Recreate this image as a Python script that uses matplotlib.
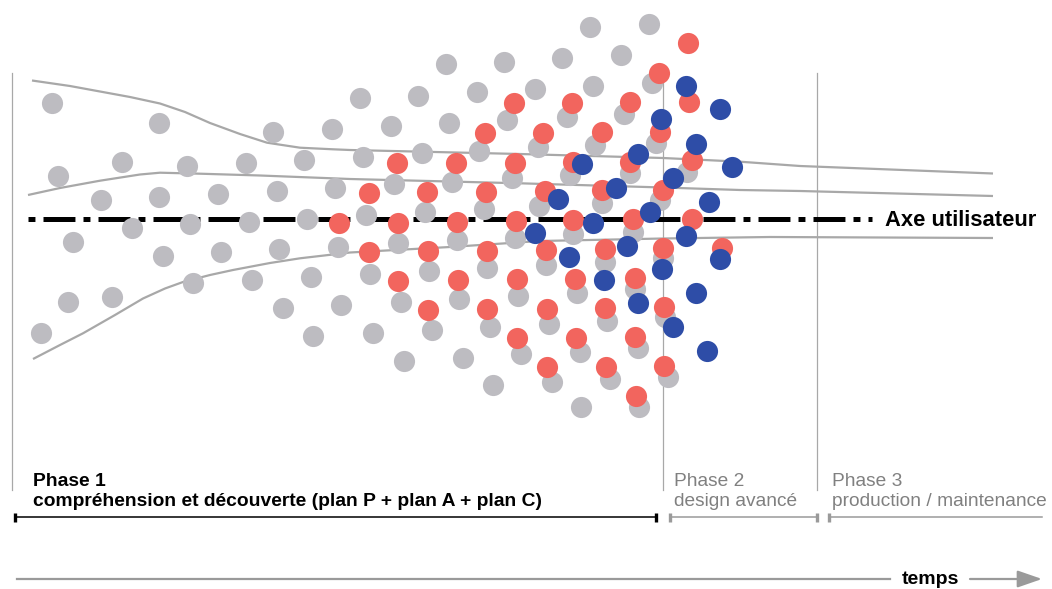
import matplotlib
matplotlib.use("Agg")
import matplotlib.pyplot as plt
from matplotlib.patches import FancyArrowPatch

plt.rcParams['font.family'] = ['Liberation Sans', 'DejaVu Sans']
plt.rcParams['lines.scale_dashes'] = False

# ---------------- data (diagram coordinates, pixel-like units) ----------------
gray_x = [51.7, 159.3, 273.3, 332.3, 57.7, 122.3, 187.3, 245.7, 304.3, 100.7,
          159.3, 218, 276.7, 335.3, 73.3, 131.7, 190, 249.3, 307.3, 162.7,
          221, 279.3, 338.3, 68.3, 111.7, 193.3, 251.7, 310.7, 40.7, 282.7,
          340.7, 313.3,
          446, 504.3, 360, 417.7, 476.7, 535, 391, 448.7, 507.3, 363.3,
          421.7, 479.3, 538.3, 590, 648.7, 562.3, 620.7, 593, 651.7, 566.7,
          624, 595.3, 655.5,
          394, 452, 511.7, 570, 630, 686.7, 366, 425, 484, 539.3,
          601.7, 660, 397.5, 456.7, 515, 573.3, 632.5, 370, 428.5, 487,
          546, 605, 663.3, 401, 459.3, 518.3, 576.7, 635, 373.3, 431.7,
          490, 548.7, 606.7, 665, 404, 462.7, 521, 580, 638.3, 493.3,
          551.7, 610, 667.7, 580.5, 639.3]
gray_y = [103.3, 123.3, 131.7, 129, 175.7, 161.7, 166, 162.7, 160, 200,
          196.7, 194, 190.7, 187.7, 241.7, 227.7, 224.3, 221.7, 218.7, 255.7,
          252.3, 249.3, 246.7, 301.7, 297.3, 283.3, 280, 277.3, 332.7, 308.3,
          305, 335.7,
          64.3, 61.7, 98.3, 95.7, 92.3, 89.3, 126, 122.7, 120, 156.7,
          153.3, 150.7, 147.3, 27.3, 24.3, 58.3, 55.3, 86, 83, 117.3,
          114.3, 144.5, 142.5,
          184.3, 181.7, 178.3, 175, 173.3, 171.7, 215, 211.7, 209.3, 206,
          203.3, 200, 243.3, 240.3, 237.8, 234, 231.7, 274, 271, 268,
          265, 261.7, 258.3, 301.7, 299, 296, 292.7, 289.3, 332.7, 330,
          326.7, 323.7, 320.7, 316.7, 360.7, 357.7, 354.3, 351.7, 348.3, 385,
          382, 379.3, 376.7, 406.7, 407.3]

red_x = [339, 368.5, 369, 397.3, 398.3, 398.3, 426.7, 427.7, 428.3, 456,
         456.7, 457.5, 485, 485.7, 486.5, 486.7, 514, 515, 515.7, 516.7,
         517.3, 543.3, 545, 545.7, 546.7, 547, 571.7, 573.3, 573.3, 575,
         576, 601.7, 601.7, 604.7, 605, 605.7, 630, 630, 633.3, 634.5,
         635, 635.7, 659.3, 660, 662.7, 663.3, 664, 664.3, 688.3, 689,
         691.7, 691.7, 721.7]
red_y = [222.7, 192.5, 251.7, 163.3, 222.7, 280.5, 192.3, 251, 310, 163,
         221.7, 279.7, 133.3, 191.7, 250.5, 309.3, 103.3, 162.7, 220.7, 279,
         338.3, 132.7, 191, 250, 309, 367, 102.7, 161.7, 220, 278.7,
         337.5, 132, 190, 249.3, 308.3, 366.7, 101.7, 161.7, 219.3, 277.7,
         336.7, 395.7, 72.7, 131.7, 190, 248.3, 307.3, 365.7, 42.7, 102,
         160, 219, 247.5]

blue_x = [685.7, 720, 660.7, 696, 638.3, 581.7, 731.7, 673.3, 616, 558.3,
          709, 650, 592.5, 535, 685.5, 626.7, 569.3, 720, 661.7, 604,
          696, 638.3, 672.7, 706.7]
blue_y = [86, 109.3, 119, 143.5, 154, 164, 166.7, 177.7, 188.3, 199.3,
          202, 211.7, 222.7, 233.3, 235.5, 246, 256.7, 259, 269.3, 280,
          292.7, 303.3, 327.3, 350.7]

curve1_x = [32, 70, 100, 130, 160, 185, 210, 240, 267, 300, 333, 350, 520, 663, 740, 800, 993]
curve1_y = [80.5, 86, 91.5, 97, 103.5, 112, 123, 134, 142.7, 147.7, 149.3, 150, 154, 158, 161.7, 166, 173.5]
curve2_x = [28, 60, 100, 140, 160, 200, 260, 350, 520, 663, 740, 800, 993]
curve2_y = [195, 188, 180.7, 174.5, 172.7, 173.7, 175.5, 179, 183.3, 187.5, 190, 191, 196]
curve3_x = [33, 60, 83, 115, 143, 165, 183, 210, 233, 270, 300, 350, 450, 540, 663, 770, 993]
curve3_y = [359, 345, 333.3, 315, 298.5, 288.5, 282, 275, 270, 263, 258.3, 252.5, 247, 241, 238.5, 237, 238]

axis_label = "Axe utilisateur"
phase_titles = ["Phase 1", "Phase 2", "Phase 3"]
phase_subtitles = ["compréhension et découverte (plan P + plan A + plan C)",
                   "design avancé", "production / maintenance"]
phase_starts = [14.5, 669.5, 828.5]
phase_ends = [655.5, 817, 1042]
phase_dividers = [12, 663, 817]
time_label = "temps"

GRAY_DOT = '#bdbcc1'
RED_DOT = '#f2655e'
BLUE_DOT = '#2e4da7'
LINE_GRAY = '#a8a8a8'
TEXT_GRAY = '#808080'

# ---------------- figure ----------------
fig = plt.figure(figsize=(10.52, 5.89), dpi=100)
ax = fig.add_axes([0, 0, 1, 1])
ax.set_xlim(0, 1052)
ax.set_ylim(589, 0)
ax.axis('off')

# vertical phase dividers
for xv in phase_dividers:
    ax.plot([xv, xv], [73, 490], color=LINE_GRAY, lw=0.9, zorder=1)

# curves
for cx, cy in [(curve1_x, curve1_y), (curve2_x, curve2_y), (curve3_x, curve3_y)]:
    ax.plot(cx, cy, color=LINE_GRAY, lw=1.6, zorder=1, solid_capstyle='butt')

# user axis dash-dot line
ax.plot([28, 872], [219.3, 219.3], color='black', lw=3.6,
        linestyle=(0, (5, 5.8, 23, 5.8)), dash_capstyle='butt', zorder=1.5)
ax.text(885, 226, axis_label, fontsize=15.8, fontweight='bold', color='black',
        va='baseline', ha='left')

# dots
S = 232
ax.scatter(gray_x, gray_y, s=S, color=GRAY_DOT, linewidths=0, zorder=2)
ax.scatter(red_x, red_y, s=S, color=RED_DOT, linewidths=0, zorder=3)
ax.scatter(blue_x, blue_y, s=S, color=BLUE_DOT, linewidths=0, zorder=4)

# phase labels
colors = ['black', TEXT_GRAY, TEXT_GRAY]
weights = ['bold', 'normal', 'normal']
text_x = [33, 674, 832.5]
sizes = [13.9, 13.8, 13.8]
for i in range(3):
    ax.text(text_x[i], 486, phase_titles[i], fontsize=sizes[i], fontweight=weights[i],
            color=colors[i], va='baseline', ha='left')
    ax.text(text_x[i], 506.5, phase_subtitles[i], fontsize=sizes[i], fontweight=weights[i],
            color=colors[i], va='baseline', ha='left')

# phase brackets
bracket_colors = ['black', '#9a9a9a', '#9a9a9a']
for i in range(3):
    c = bracket_colors[i]
    ax.plot([phase_starts[i], phase_ends[i]], [517, 517], color=c, lw=1.1, zorder=2)
    ax.plot([phase_starts[i], phase_starts[i]], [512.5, 521.5], color=c, lw=2.4,
            solid_capstyle='butt', zorder=2)
    if i < 2:
        ax.plot([phase_ends[i], phase_ends[i]], [512.5, 521.5], color=c, lw=2.4,
                solid_capstyle='butt', zorder=2)

# time arrow
ax.plot([17, 890], [579, 579], color='#9a9a9a', lw=1.6)
ax.text(930, 579, time_label, fontsize=14, fontweight='bold', color='black',
        va='center', ha='center')
arr = FancyArrowPatch((970, 579), (1042, 579),
                      arrowstyle='-|>,head_length=0.75,head_width=0.26',
                      mutation_scale=20, color='#9a9a9a', lw=1.6,
                      shrinkA=0, shrinkB=0)
ax.add_patch(arr)

fig.savefig('out.png', dpi=100)
